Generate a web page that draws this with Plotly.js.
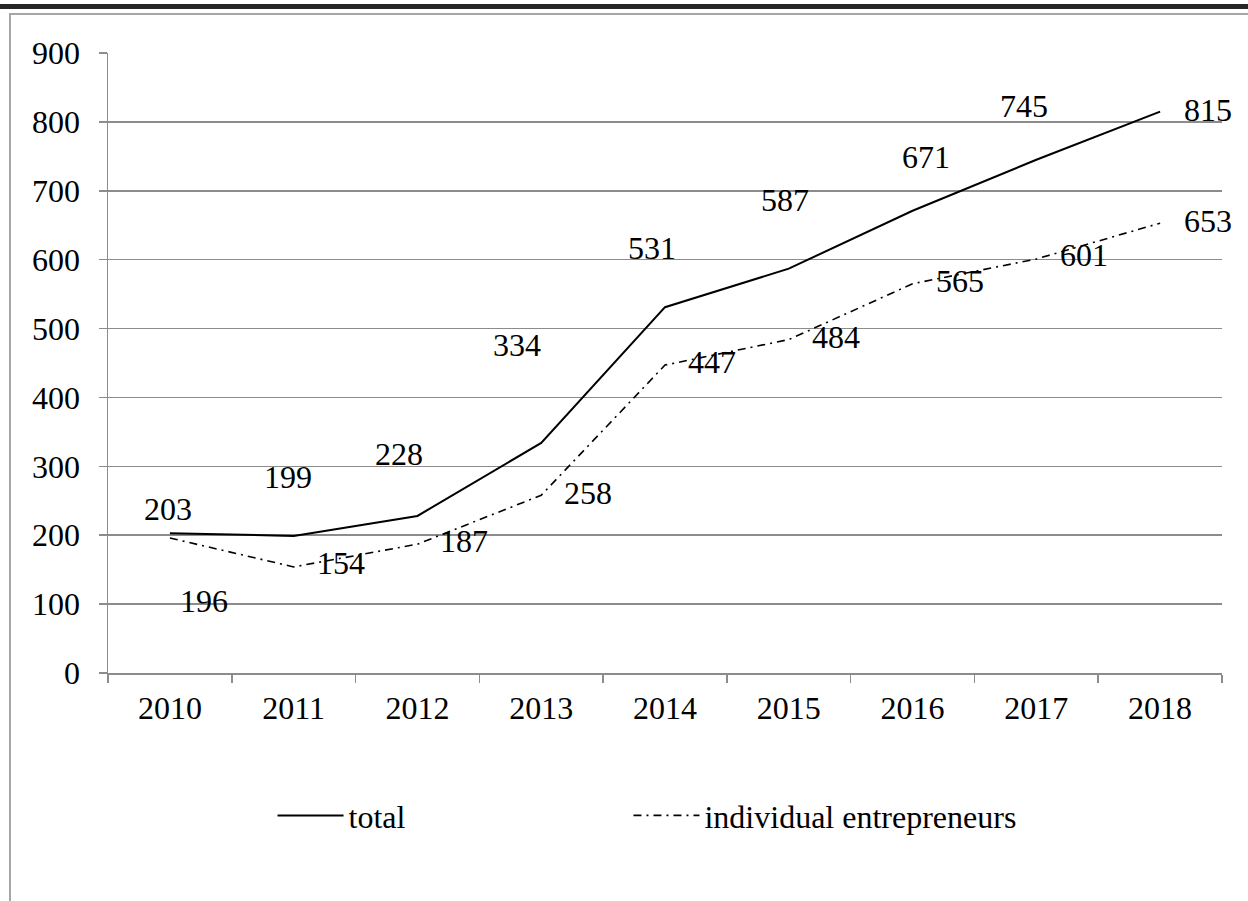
<!DOCTYPE html>
<html>
<head>
<meta charset="utf-8">
<script src="https://cdn.plot.ly/plotly-3.0.1.min.js"></script>
<style>
  html, body { margin: 0; padding: 0; background: #ffffff; width: 1248px; height: 901px; overflow: hidden; }
  #topbar { position: absolute; top: 4px; left: 0; width: 1248px; height: 5px; background: #262626; }
  #frame { position: absolute; top: 13px; left: 9px; width: 1400px; height: 1000px;
           border-top: 2px solid #a6a6a6; border-left: 2px solid #a6a6a6; }
  #chart { position: absolute; top: 0; left: 0; width: 1248px; height: 901px; }
</style>
</head>
<body>
<div id="topbar"></div>
<div id="frame"></div>
<div id="chart"></div>
<script>
// ---- data ----
const years = ["2010", "2011", "2012", "2013", "2014", "2015", "2016", "2017", "2018"];
const totalValues = [203, 199, 228, 334, 531, 587, 671, 745, 815];
const entrepreneurValues = [196, 154, 187, 258, 447, 484, 565, 601, 653];
const seriesNames = ["total", "individual entrepreneurs"];

// ---- label placement (pixel offsets from each point, screen units: +x right, +y down) ----
const totalLabelDx = [-2, -6, -18, -24, -13, -4, 13, -12, 48];
const totalLabelDy = [-21, -56, -59, -95, -56, -66, -51, -51, 1];
const entLabelDx = [34, 47, 47, 47, 47, 47, 47, 48, 48];
const entLabelDy = [66, -1, 0, 1, 0, 0, 0, -1, 1];

const FONT = "'Liberation Serif', 'Times New Roman', serif";
const FS = 32;
const GRID = "#8c8c8c";

const traces = [
  {
    x: years, y: totalValues, name: seriesNames[0], type: "scatter", mode: "lines",
    line: { color: "#000000", width: 2 }, hoverinfo: "skip", legend: "legend"
  },
  {
    x: years, y: entrepreneurValues, name: seriesNames[1], type: "scatter", mode: "lines",
    line: { color: "#000000", width: 1.6, dash: "8px,5px,2px,5px" }, hoverinfo: "skip", legend: "legend2"
  }
];

const annotations = [];
function addLabels(vals, dx, dy) {
  for (let i = 0; i < vals.length; i++) {
    annotations.push({
      x: i, y: vals[i], xref: "x", yref: "y", text: String(vals[i]), showarrow: false,
      xanchor: "center", yanchor: "middle", xshift: dx[i], yshift: 3 - dy[i],
      font: { family: FONT, size: FS, color: "#000000" }
    });
  }
}
addLabels(totalValues, totalLabelDx, totalLabelDy);
addLabels(entrepreneurValues, entLabelDx, entLabelDy);

const legendStyle = {
  orientation: "h", y: -0.23, xanchor: "left", yanchor: "middle", itemwidth: 66,
  font: { family: FONT, size: FS, color: "#000000" },
  bgcolor: "rgba(0,0,0,0)", borderwidth: 0
};

const layout = {
  width: 1248, height: 901,
  margin: { l: 108, r: 26, t: 53, b: 228 },
  paper_bgcolor: "rgba(0,0,0,0)", plot_bgcolor: "rgba(0,0,0,0)",
  font: { family: FONT, size: FS, color: "#000000" },
  showlegend: true,
  legend: Object.assign({ x: 0.1477 }, legendStyle),
  legend2: Object.assign({ x: 0.4672 }, legendStyle),
  xaxis: {
    type: "category", range: [-0.5, 8.5], tickson: "boundaries",
    ticks: "outside", ticklen: 8, tickwidth: 1.5, tickcolor: GRID,
    showline: true, linecolor: GRID, linewidth: 1.5,
    showgrid: false, zeroline: false, ticklabelstandoff: 6,
    tickfont: { family: FONT, size: FS, color: "#000000" }, fixedrange: true
  },
  yaxis: {
    range: [0, 900], dtick: 100, tick0: 0,
    ticks: "outside", ticklen: 8, tickwidth: 1.5, tickcolor: GRID,
    showline: true, linecolor: GRID, linewidth: 1.5,
    showgrid: true, gridcolor: GRID, gridwidth: 1.5, zeroline: false,
    ticklabelstandoff: 12,
    tickfont: { family: FONT, size: FS, color: "#000000" }, fixedrange: true
  },
  annotations: annotations
};

Plotly.newPlot("chart", traces, layout, { staticPlot: true, displayModeBar: false });
</script>
</body>
</html>
